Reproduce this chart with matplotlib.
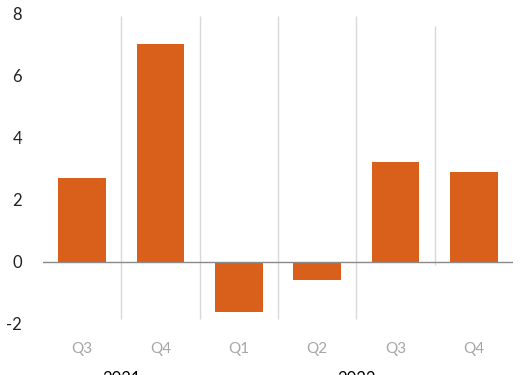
import matplotlib.pyplot as plt

# datos
trimestres = ['Q3', 'Q4', 'Q1', 'Q2', 'Q3', 'Q4']
valores = [2.7, 7.0, -1.6, -0.6, 3.2, 2.9]
anios = ['2021', '2022']
anio_centro = [0.5, 3.5]

plt.rcParams['font.family'] = ['Lato', 'DejaVu Sans']
plt.rcParams['axes.unicode_minus'] = False

fig = plt.figure(figsize=(5.25, 3.75), dpi=100)
ax = fig.add_axes([0.082, 0.136, 0.895, 0.829])

x = list(range(len(valores)))
ax.bar(x, valores, width=0.61, color='#D9601A', zorder=3)

# lineas verticales entre categorias
separadores = [0.5, 1.5, 2.5, 3.5, 4.5]
for s in separadores[:-1]:
    ax.vlines(s, -1.85, 7.92, color='#D9D9D9', lw=1, zorder=1)
ax.vlines(separadores[-1], -0.1, 7.6, color='#D9D9D9', lw=1, zorder=1)

ax.axhline(0, color='#898989', lw=1, zorder=4)

ax.set_xlim(-0.5, 5.5)
ax.set_ylim(-2, 8)
ax.set_yticks([-2, 0, 2, 4, 6, 8])
ax.set_xticks(x)
ax.set_xticklabels(trimestres, color='#A6A6A6', fontsize=11)
ax.tick_params(axis='x', length=0, pad=13)
ax.tick_params(axis='y', length=0, pad=15, labelsize=12, labelcolor='#222222')
for sp in ax.spines.values():
    sp.set_visible(False)

# etiquetas de anio (recortadas abajo, como en el original)
for a, c in zip(anios, anio_centro):
    xf = ax.transData.transform((c, 0))[0] / fig.bbox.width
    fig.text(xf, 0.011, a, ha='center', va='top', fontsize=12, color='black')

fig.savefig('out.png', dpi=100)
